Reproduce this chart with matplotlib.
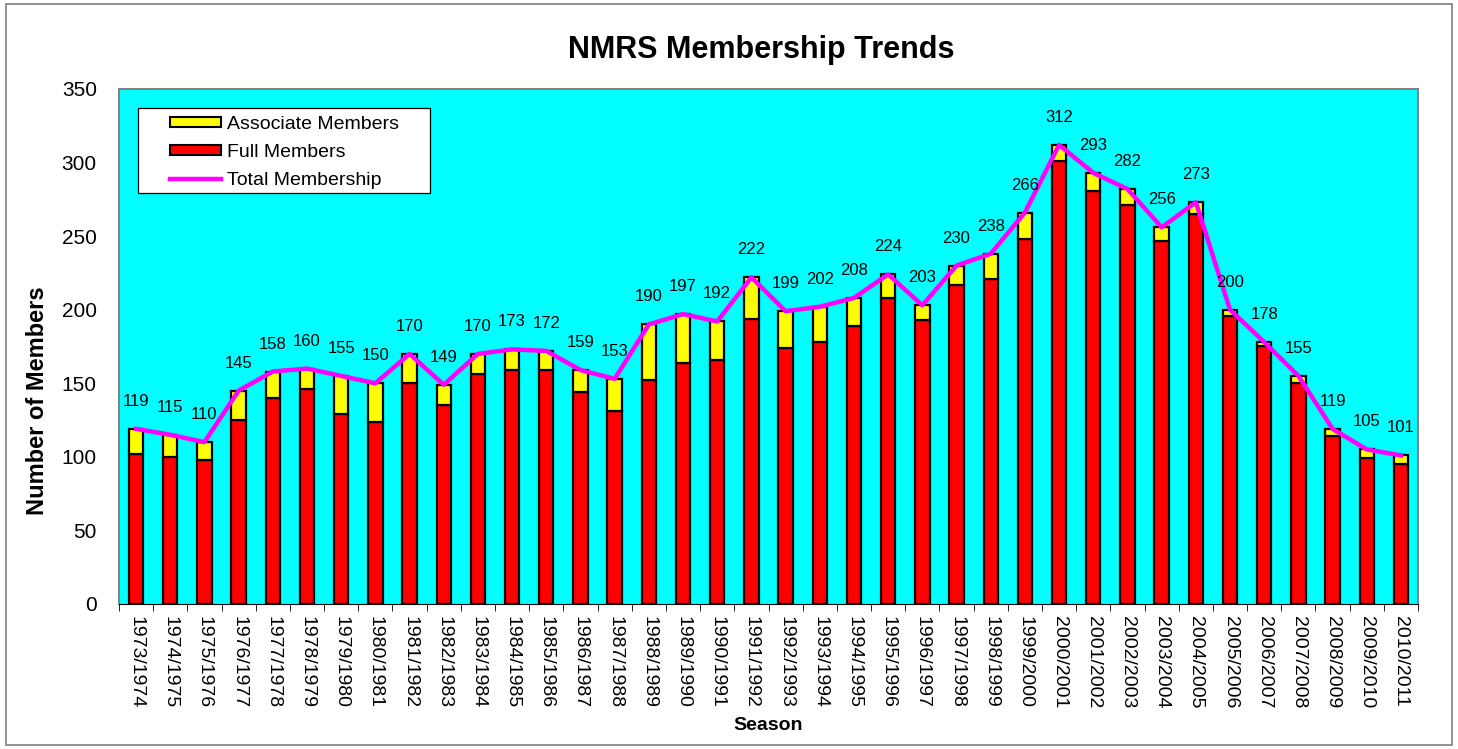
import matplotlib.pyplot as plt
import numpy as np
from matplotlib.patches import Rectangle, Patch
from matplotlib.lines import Line2D

plt.rcParams['font.family'] = ['Liberation Sans', 'DejaVu Sans']

# Data
seasons = ["1973/1974", "1974/1975", "1975/1976", "1976/1977", "1977/1978", "1978/1979",
           "1979/1980", "1980/1981", "1981/1982", "1982/1983", "1983/1984", "1984/1985",
           "1985/1986", "1986/1987", "1987/1988", "1988/1989", "1989/1990", "1990/1991",
           "1991/1992", "1992/1993", "1993/1994", "1994/1995", "1995/1996", "1996/1997",
           "1997/1998", "1998/1999", "1999/2000", "2000/2001", "2001/2002", "2002/2003",
           "2003/2004", "2004/2005", "2005/2006", "2006/2007", "2007/2008", "2008/2009",
           "2009/2010", "2010/2011"]
total = [119, 115, 110, 145, 158, 160, 155, 150, 170, 149, 170, 173, 172, 159, 153,
         190, 197, 192, 222, 199, 202, 208, 224, 203, 230, 238, 266, 312, 293, 282,
         256, 273, 200, 178, 155, 119, 105, 101]
full = [102, 100, 98, 125, 140, 146, 129, 124, 150, 135, 156, 159, 159, 144, 131,
        152, 164, 166, 194, 174, 178, 189, 208, 193, 217, 221, 248, 301, 281, 271,
        247, 265, 196, 175, 150, 114, 99, 95]
associate = [t - f for t, f in zip(total, full)]

x = np.arange(len(seasons))

fig = plt.figure(figsize=(14.58, 7.49), dpi=100)
ax = fig.add_axes([0.0816, 0.1936, 0.8910, 0.6876])

# figure border
fig.patches.append(Rectangle((0.004, 0.006), 0.992, 0.988, transform=fig.transFigure,
                             fill=False, edgecolor="#808080", linewidth=1.2))

ax.set_facecolor("#00FFFF")
ax.bar(x, full, width=0.42, color="#FF0000", edgecolor="black", linewidth=1.6, zorder=2)
ax.bar(x, associate, width=0.42, bottom=full, color="#FFFF00", edgecolor="black",
       linewidth=1.6, zorder=2)
ax.plot(x, total, color="#FF00FF", linewidth=3.2, zorder=3)

for xi, t in zip(x, total):
    ax.annotate(str(t), (xi, t), xytext=(0, 19.8), textcoords="offset points",
                ha="center", va="center", fontsize=12)

ax.set_xlim(-0.5, len(seasons) - 0.5)
ax.set_ylim(0, 350)
ax.set_yticks(range(0, 351, 50))
ax.tick_params(axis="y", labelsize=15, length=0, pad=16)
ax.set_xticks(x)
ax.set_xticklabels(seasons, rotation=270, fontsize=14)
ax.tick_params(axis="x", which="major", length=0, pad=9)
ax.set_xticks(np.arange(-0.5, len(seasons), 1), minor=True)
ax.tick_params(axis="x", which="minor", length=5, color="black")

for side in ["top", "right", "left"]:
    ax.spines[side].set_color("#808080")
    ax.spines[side].set_linewidth(1.4)
ax.spines["bottom"].set_color("black")

fig.text(0.522, 0.933, "NMRS Membership Trends", fontsize=22, fontweight="bold",
         ha="center", va="center")
fig.text(0.0254, 0.4646, "Number of Members", fontsize=17, fontweight="bold",
         rotation=90, ha="center", va="center")
fig.text(0.527, 0.032, "Season", fontsize=14, fontweight="bold", ha="center", va="center")

# legend box drawn by hand so the entries can sit inset like the original
ax.add_patch(Rectangle((0.0146, 0.798), 0.2248, 0.165, transform=ax.transAxes,
                       facecolor="white", edgecolor="black", linewidth=0.9, zorder=4))
handles = [Patch(facecolor="#FFFF00", edgecolor="black", linewidth=1.5),
           Patch(facecolor="#FF0000", edgecolor="black", linewidth=1.5),
           Line2D([0], [0], color="#FF00FF", linewidth=3.2)]
leg = ax.legend(handles, ["Associate Members", "Full Members", "Total Membership"],
                loc="upper left", bbox_to_anchor=(0.0393, 0.948), fontsize=14,
                frameon=False, handlelength=2.6, handleheight=0.45, borderpad=0,
                labelspacing=0.57, borderaxespad=0, handletextpad=0.35)
leg.set_zorder(5)

fig.savefig("out.png", dpi=100)
